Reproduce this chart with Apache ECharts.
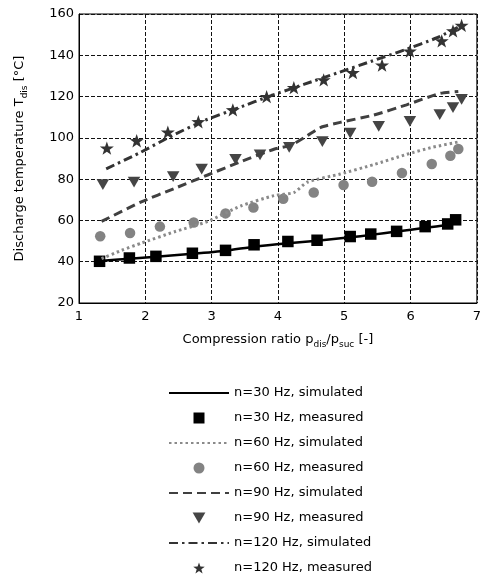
<!DOCTYPE html>
<html>
<head>
<meta charset="utf-8">
<script src="https://cdn.jsdelivr.net/npm/echarts@6/dist/echarts.min.js"></script>
<style>html,body{margin:0;padding:0;background:#fff}#c{width:484px;height:581px}</style>
</head>
<body>
<div id="c"></div>
<script>
// ---- data ----
var xTicks = [1, 2, 3, 4, 5, 6, 7];
var yTicks = [20, 40, 60, 80, 100, 120, 140, 160];

var names = ['n=30 Hz, simulated', 'n=30 Hz, measured', 'n=60 Hz, simulated', 'n=60 Hz, measured',
             'n=90 Hz, simulated', 'n=90 Hz, measured', 'n=120 Hz, simulated', 'n=120 Hz, measured'];

var x30s = [1.31, 1.76, 2.16, 2.71, 3.21, 3.64, 4.15, 4.59, 5.09, 5.40, 5.79, 6.22, 6.56, 6.70];
var y30s = [40.4, 41.4, 42.4, 43.8, 45.3, 47.3, 49.0, 50.2, 51.8, 53.0, 54.6, 56.4, 57.9, 59.3];
var x30m = [1.31, 1.76, 2.16, 2.71, 3.21, 3.64, 4.15, 4.59, 5.09, 5.40, 5.79, 6.22, 6.56, 6.68];
var y30m = [40.2, 41.8, 42.6, 44.1, 45.5, 48.2, 49.8, 50.4, 52.2, 53.4, 54.7, 57.0, 58.3, 60.3];

var x60s = [1.34, 1.64, 1.94, 2.44, 2.94, 3.44, 3.94, 4.24, 4.44, 4.94, 5.44, 5.94, 6.34, 6.72];
var y60s = [41.5, 45.5, 49.0, 54.5, 59.5, 67.0, 72.0, 73.5, 78.5, 82.5, 87.0, 92.0, 95.5, 98.0];
var x60m = [1.32, 1.77, 2.22, 2.73, 3.21, 3.63, 4.08, 4.54, 4.99, 5.42, 5.87, 6.32, 6.60, 6.72];
var y60m = [52.3, 53.9, 57.0, 59.0, 63.4, 66.3, 70.5, 73.5, 77.2, 78.7, 83.0, 87.3, 91.3, 94.6];

var x90s = [1.34, 1.94, 2.44, 2.94, 3.44, 3.94, 4.20, 4.44, 4.64, 4.94, 5.44, 5.94, 6.44, 6.72];
var y90s = [59.5, 69.0, 75.5, 82.0, 88.5, 94.5, 96.5, 101.0, 105.0, 107.5, 111.0, 116.0, 121.5, 122.5];
var x90m = [1.36, 1.83, 2.42, 2.85, 3.36, 3.73, 4.17, 4.67, 5.09, 5.52, 5.99, 6.44, 6.64, 6.77];
var y90m = [77.3, 78.5, 81.2, 84.8, 89.6, 91.8, 95.4, 98.2, 102.3, 105.6, 108.0, 111.2, 114.7, 118.6];

var x120s = [1.41, 1.90, 2.40, 2.90, 3.40, 3.90, 4.40, 4.90, 5.40, 5.90, 6.40, 6.74];
var y120s = [85.0, 92.5, 101.0, 108.5, 114.5, 120.5, 126.0, 131.5, 137.0, 142.5, 148.5, 154.0];
var x120m = [1.42, 1.87, 2.34, 2.80, 3.32, 3.83, 4.24, 4.69, 5.13, 5.57, 5.99, 6.47, 6.64, 6.77];
var y120m = [95.0, 98.6, 102.8, 107.8, 113.6, 120.0, 124.3, 128.1, 131.6, 135.2, 142.0, 147.0, 151.8, 154.5];

// ---- build ----
function pairs(xs, ys) { return xs.map(function (x, i) { return [x, ys[i]]; }); }

var SQUARE = 'path://M0,0H10V10H0Z';
var TRI = 'path://M0,0L100,0L50,86Z';
var STAR = 'path://M100,0L123.5,67.6L195.1,69.1L138,112.4L158.8,180.9L100,140L41.2,180.9L62,112.4L4.9,69.1L76.5,67.6Z';
var FONT = 'DejaVu Sans';

function simLine(name, xs, ys, color, width, dash) {
  return {
    name: name, type: 'line', data: pairs(xs, ys), showSymbol: false, symbol: 'circle',
    smooth: 0.2, silent: true,
    lineStyle: { color: color, width: width, type: dash, cap: 'butt' },
    itemStyle: { color: color }
  };
}
function meas(name, xs, ys, color, sym, size) {
  return {
    name: name, type: 'scatter', data: pairs(xs, ys), symbol: sym, symbolSize: size,
    symbolKeepAspect: true, itemStyle: { color: color, opacity: 1 }, silent: true
  };
}

var series = [
  simLine(names[0], x30s, y30s, '#000000', 2.5, 'solid'),
  meas(names[1], x30m, y30m, '#000000', SQUARE, 11.5),
  simLine(names[2], x60s, y60s, '#8a8a8a', 3, [2.5, 3]),
  meas(names[3], x60m, y60m, '#838383', 'circle', 10.5),
  simLine(names[4], x90s, y90s, '#404040', 3, [9, 5]),
  meas(names[5], x90m, y90m, '#454545', TRI, 12.5),
  simLine(names[6], x120s, y120s, '#333333', 3, [9, 4, 2.5, 4]),
  meas(names[7], x120m, y120m, '#333333', STAR, 14)
];

var legendData = [
  { name: names[0], itemStyle: { opacity: 0 } },
  { name: names[1], icon: SQUARE },
  { name: names[2], itemStyle: { opacity: 0 } },
  { name: names[3], icon: 'circle' },
  { name: names[4], itemStyle: { opacity: 0 } },
  { name: names[5], icon: TRI },
  { name: names[6], itemStyle: { opacity: 0 } },
  { name: names[7], icon: STAR }
];

var gridLine = { color: '#111', width: 1, type: 'dashed', dashOffset: 0 };

var chart = echarts.init(document.getElementById('c'), null, { renderer: 'canvas' });
chart.setOption({
  animation: false,
  backgroundColor: '#ffffff',
  textStyle: { fontFamily: FONT },
  grid: { left: 79, right: 6, top: 14, bottom: 278, show: true, borderColor: '#000', borderWidth: 1, containLabel: false },
  legend: {
    orient: 'vertical', left: 168, top: 385, padding: 0, height: 196, itemWidth: 60, itemHeight: 11, itemGap: 9,
    selectedMode: false, symbolKeepAspect: true, data: legendData,
    textStyle: { fontFamily: FONT, fontSize: 13, color: '#000', lineHeight: 16 }
  },
  xAxis: {
    type: 'value', min: xTicks[0], max: xTicks[xTicks.length - 1], interval: xTicks[1] - xTicks[0],
    name: '{m|Compression ratio p}{s|dis}{m|/p}{s|suc}{m| [-]}',
    nameLocation: 'middle', nameGap: 28,
    nameTextStyle: { rich: { m: { fontFamily: FONT, fontSize: 13, color: '#000' }, s: { fontFamily: FONT, fontSize: 9, color: '#000', padding: [9, 0, 0, 0] } } },
    axisLine: { show: true, lineStyle: { color: '#000', width: 1 } },
    axisTick: { show: false },
    axisLabel: { color: '#000', fontFamily: FONT, fontSize: 13, margin: 7 },
    splitLine: { show: true, lineStyle: gridLine }
  },
  yAxis: {
    type: 'value', min: yTicks[0], max: yTicks[yTicks.length - 1], interval: yTicks[1] - yTicks[0],
    name: '{m|Discharge temperature T}{s|dis}{m| [°C]}',
    nameLocation: 'middle', nameGap: 50, nameRotate: 90,
    nameTextStyle: { rich: { m: { fontFamily: FONT, fontSize: 13, color: '#000' }, s: { fontFamily: FONT, fontSize: 9, color: '#000', padding: [9, 0, 0, 0] } } },
    axisLine: { show: true, lineStyle: { color: '#000', width: 1 } },
    axisTick: { show: false },
    axisLabel: { color: '#000', fontFamily: FONT, fontSize: 13, margin: 5 },
    splitLine: { show: true, lineStyle: gridLine }
  },
  series: series
});
</script>
</body>
</html>
